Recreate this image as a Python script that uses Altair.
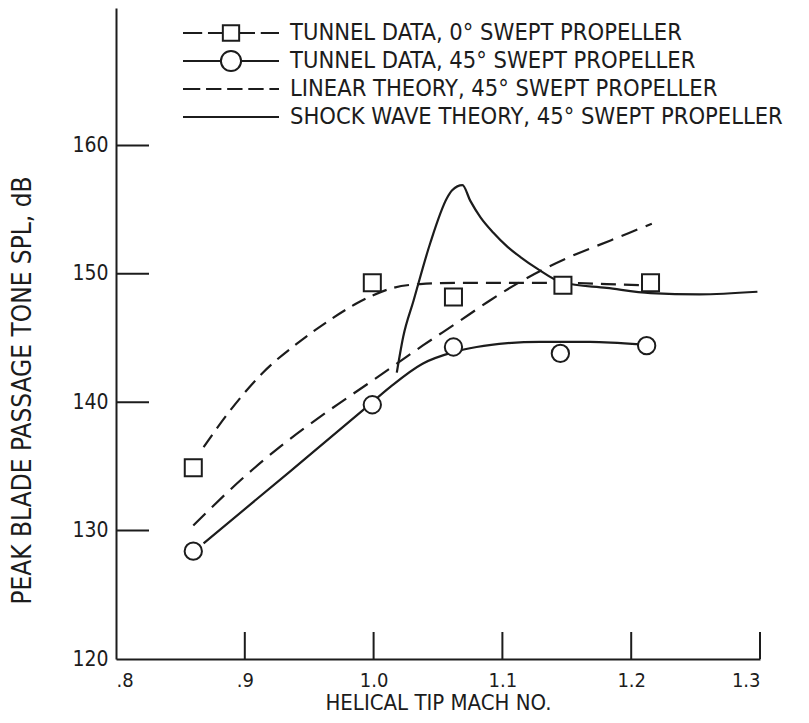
import altair as alt
import pandas as pd

# ---------------- data ----------------
sq_m = [0.860, 0.999, 1.062, 1.147, 1.215]
sq_db = [134.9, 149.3, 148.2, 149.1, 149.3]

ci_m = [0.860, 0.999, 1.062, 1.145, 1.212]
ci_db = [128.4, 139.8, 144.3, 143.8, 144.4]

# fairing through 0 deg tunnel data (dashed)
fit0_m = [0.868, 0.889, 0.914, 0.941, 0.966, 0.987, 0.999, 1.015, 1.036, 1.067, 1.114, 1.147, 1.181, 1.211]
fit0_db = [136.5, 139.4, 142.3, 144.6, 146.4, 147.7, 148.3, 148.9, 149.2, 149.3, 149.3, 149.3, 149.2, 149.1]

# fairing through 45 deg tunnel data (solid)
fit45_m = [0.868, 0.935, 0.992, 1.013, 1.038, 1.062, 1.080, 1.104, 1.129, 1.168, 1.207]
fit45_db = [129.0, 134.6, 139.4, 141.2, 143.0, 143.9, 144.3, 144.6, 144.7, 144.7, 144.5]

# linear theory, 45 deg (dashed)
lin_m = [0.860, 0.902, 0.927, 0.966, 0.995, 1.018, 1.038, 1.065, 1.090, 1.116, 1.152, 1.184, 1.216]
lin_db = [130.4, 134.4, 136.5, 139.4, 141.4, 143.0, 144.4, 146.2, 147.9, 149.5, 151.3, 152.6, 153.9]

# shock wave theory, 45 deg (solid)
shock_m = [1.018, 1.023, 1.031, 1.044, 1.057, 1.061, 1.069, 1.075, 1.083, 1.093,
           1.104, 1.114, 1.127, 1.147, 1.181, 1.215, 1.253, 1.298]
shock_db = [142.3, 145.1, 147.9, 152.4, 155.9, 156.5, 156.9, 155.7, 154.4, 153.2,
            152.1, 151.3, 150.4, 149.3, 148.9, 148.5, 148.4, 148.6]

y_ticks = [130, 140, 150, 160]
y_labels = [120, 130, 140, 150, 160]
x_ticks = [0.9, 1.0, 1.1, 1.2, 1.3]
x_labels = [0.8, 0.9, 1.0, 1.1, 1.2, 1.3]

legend_labels = [
    "TUNNEL DATA, 0° SWEPT PROPELLER",
    "TUNNEL DATA, 45° SWEPT PROPELLER",
    "LINEAR THEORY, 45° SWEPT PROPELLER",
    "SHOCK WAVE THEORY, 45° SWEPT PROPELLER",
]

# ---------------- styling ----------------
INK = "#1c1c1c"
FONT = "Liberation Sans Narrow, DejaVu Sans Condensed, Roboto Condensed, sans-serif"
W, H = 644, 651

# legend glyphs (unit coords, scaled by the legend symbol size)
legend_paths = [
    "M-1,0H-0.6M-0.48,0H-0.17M-0.17,-0.16H0.17V0.16H-0.17ZM0.17,0H0.5M0.62,0H1",
    "M-1,0H-0.21M0.21,0A0.21,0.21 0 1,1 -0.21,0A0.21,0.21 0 1,1 0.21,0M0.21,0H1",
    "M-1,0H-0.64M-0.52,0H-0.2M-0.08,0H0.24M0.36,0H0.68M0.8,0H1",
    "M-1,0H1",
]

def frame(ms, dbs, series):
    return pd.DataFrame({"m": ms, "db": dbs, "series": series})

df_fit0 = frame(fit0_m, fit0_db, legend_labels[0])
df_fit45 = frame(fit45_m, fit45_db, legend_labels[1])
df_lin = frame(lin_m, lin_db, legend_labels[2])
df_shock = frame(shock_m, shock_db, legend_labels[3])
df_sq = frame(sq_m, sq_db, legend_labels[0])
df_ci = frame(ci_m, ci_db, legend_labels[1])
df_all = pd.concat([df_fit0, df_fit45, df_lin, df_shock])
df_yt = pd.DataFrame({"db": y_ticks})
df_xt = pd.DataFrame({"m": x_ticks})

x_scale = alt.Scale(domain=[0.8, 1.3], nice=False, zero=False)
y_scale = alt.Scale(domain=[120, 170.7], nice=False, zero=False)

x_axis = alt.Axis(
    title="HELICAL TIP MACH NO.",
    values=x_labels,
    labelExpr="datum.value < 0.95 ? '.' + format(datum.value * 10, 'd') : format(datum.value, '.1f')",
    ticks=False, grid=False,
    domainColor=INK, domainWidth=2,
    labelFont=FONT, labelFontSize=20, labelColor=INK, labelPadding=11,
    titleFont=FONT, titleFontSize=22, titleFontWeight="normal", titleColor=INK,
    titlePadding=2,
)
y_axis = alt.Axis(
    title="PEAK BLADE PASSAGE TONE SPL, dB",
    values=y_labels,
    ticks=False, grid=False,
    domainColor=INK, domainWidth=2,
    labelFont=FONT, labelFontSize=21, labelColor=INK, labelPadding=8,
    titleFont=FONT, titleFontSize=26, titleFontWeight="normal", titleColor=INK,
    titleX=-94, titleY=382, titleBaseline="middle", titleAngle=270,
)

X = alt.X("m:Q", scale=x_scale, axis=x_axis)
Y = alt.Y("db:Q", scale=y_scale, axis=y_axis)

def curve(df, dash=None):
    kw = dict(color=INK, strokeWidth=2.2, interpolate="monotone")
    if dash:
        kw["strokeDash"] = dash
    return alt.Chart(df).mark_line(**kw).encode(x=X, y=Y)

fit0 = curve(df_fit0, [15, 8])
fit45 = curve(df_fit45)
lin = curve(df_lin, [17, 9])
shock = curve(df_shock)

squares = alt.Chart(df_sq).mark_point(
    shape="square", size=290, filled=False, fill="white", fillOpacity=1,
    stroke=INK, strokeWidth=2, opacity=1,
).encode(x=X, y=Y)
circles = alt.Chart(df_ci).mark_point(
    shape="circle", size=300, filled=False, fill="white", fillOpacity=1,
    stroke=INK, strokeWidth=2, opacity=1,
).encode(x=X, y=Y)

ytick_rules = alt.Chart(df_yt).mark_rule(color=INK, strokeWidth=2).encode(
    y=Y, x=alt.value(0), x2=alt.value(33)
)
xtick_rules = alt.Chart(df_xt).mark_rule(color=INK, strokeWidth=2).encode(
    x=X, y=alt.value(H), y2=alt.value(H - 27)
)

legend_layer = alt.Chart(df_all).mark_point(opacity=0).encode(
    x=X, y=Y,
    shape=alt.Shape(
        "series:N",
        scale=alt.Scale(domain=legend_labels, range=legend_paths),
        legend=alt.Legend(
            title=None, orient="none", legendX=66, legendY=12,
            symbolSize=9216, symbolStrokeWidth=2, symbolStrokeColor=INK,
            symbolFillColor="white", symbolOpacity=1,
            clipHeight=26, rowPadding=2,
            labelFont=FONT, labelFontSize=23.5, labelColor=INK, labelOffset=10,
            labelLimit=0, padding=0,
        ),
    ),
)

chart = alt.layer(
    legend_layer, ytick_rules, xtick_rules, fit0, lin, fit45, shock, squares, circles
).properties(
    width=W, height=H,
    autosize=alt.AutoSizeParams(type="none"),
    padding={"left": 108, "top": 0, "right": 41, "bottom": 56},
    background="white",
).configure_view(stroke=None)

chart.save("out.html", embed_options={"renderer": "svg", "actions": False})
